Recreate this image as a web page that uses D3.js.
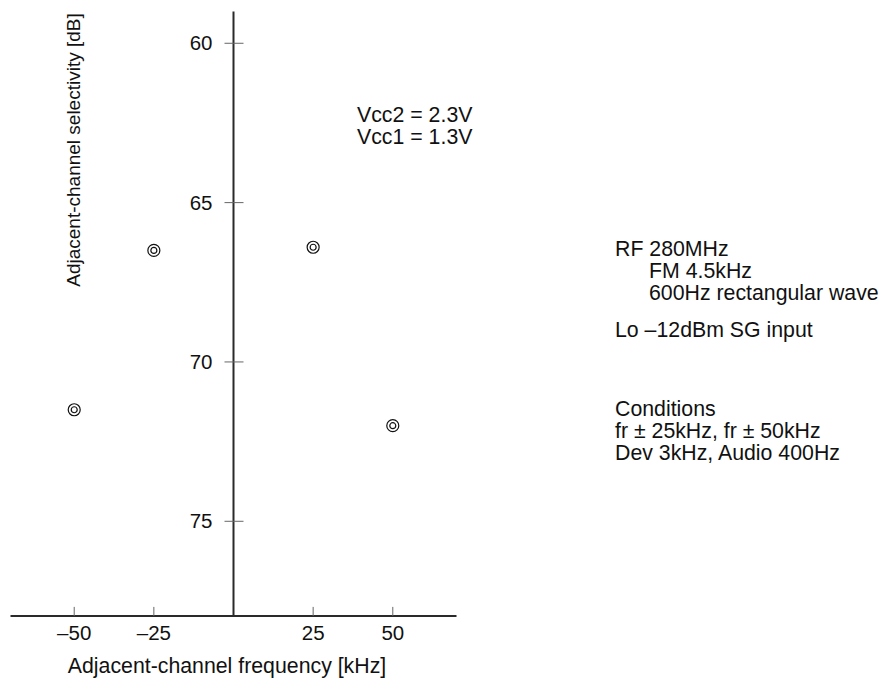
<!DOCTYPE html>
<html>
<head>
<meta charset="utf-8">
<script src="https://cdn.jsdelivr.net/npm/d3@7"></script>
<style>
  html, body { margin: 0; padding: 0; background: #fff; }
  svg { display: block; font-family: "Liberation Sans", Arial, sans-serif; }
</style>
</head>
<body>
<div id="chart"></div>
<script>
// Measured adjacent-channel selectivity at ±25 kHz and ±50 kHz offsets
const offsetsKHz = [-50, -25, 25, 50];
const selectivityDB = [71.5, 66.5, 66.4, 72.0];

const xTicks = [-50, -25, 25, 50];
const xTickLabels = ["\u201350", "\u201325", "25", "50"];
const yTicks = [60, 65, 70, 75];

const supplyNotes = ["Vcc2 = 2.3V", "Vcc1 = 1.3V"];
const signalNotes = [
  { text: "RF 280MHz", indent: 0 },
  { text: "FM 4.5kHz", indent: 1 },
  { text: "600Hz rectangular wave", indent: 1 }
];
const localNotes = [{ text: "Lo \u201312dBm SG input", indent: 0 }];
const testNotes = [
  { text: "Conditions", indent: 0 },
  { text: "fr \u00b1 25kHz, fr \u00b1 50kHz", indent: 0 },
  { text: "Dev 3kHz, Audio 400Hz", indent: 0 }
];

const W = 883, H = 687;
const svg = d3.select("#chart").append("svg").attr("width", W).attr("height", H);

const x = d3.scaleLinear().domain([-70, 70]).range([10.5, 456.5]);
const y = d3.scaleLinear().domain([59, 78]).range([11.4, 616.9]);

const axisColor = "#2a2a2a";
const tickColor = "#666";
const labelSize = 20.5;
const textSize = 21.3;

// Horizontal axis along the bottom of the plot
const xAxisY = y(78) - 1;
svg.append("line")
  .attr("x1", x(-70)).attr("x2", x(70))
  .attr("y1", xAxisY).attr("y2", xAxisY)
  .attr("stroke", axisColor).attr("stroke-width", 2);

svg.selectAll(".xtick").data(xTicks).join("line")
  .attr("x1", d => x(d)).attr("x2", d => x(d))
  .attr("y1", xAxisY - 9).attr("y2", xAxisY)
  .attr("stroke", tickColor).attr("stroke-width", 1);

svg.selectAll(".xlabel").data(xTicks).join("text")
  .attr("x", d => x(d)).attr("y", xAxisY + 24)
  .attr("text-anchor", "middle")
  .attr("font-size", labelSize)
  .attr("fill", "#111")
  .text((d, i) => xTickLabels[i]);

svg.append("text")
  .attr("x", 227).attr("y", xAxisY + 57)
  .attr("text-anchor", "middle")
  .attr("font-size", textSize)
  .attr("fill", "#111")
  .text("Adjacent-channel frequency [kHz]");

// Vertical axis at zero offset; selectivity grows downward
const yAxisX = x(0);
svg.append("line")
  .attr("x1", yAxisX).attr("x2", yAxisX)
  .attr("y1", y(59)).attr("y2", xAxisY)
  .attr("stroke", axisColor).attr("stroke-width", 2);

svg.selectAll(".ytick").data(yTicks).join("line")
  .attr("x1", yAxisX - 9).attr("x2", yAxisX + 10)
  .attr("y1", d => y(d)).attr("y2", d => y(d))
  .attr("stroke", tickColor).attr("stroke-width", 1);

svg.selectAll(".ylabel").data(yTicks).join("text")
  .attr("x", yAxisX - 21).attr("y", d => y(d) + 7)
  .attr("text-anchor", "end")
  .attr("font-size", labelSize)
  .attr("fill", "#111")
  .text(d => d);

svg.append("text")
  .attr("transform", `translate(80, 150) rotate(-90)`)
  .attr("text-anchor", "middle")
  .attr("font-size", 19)
  .attr("fill", "#111")
  .text("Adjacent-channel selectivity [dB]");

// Measurement points drawn as double circles
const pts = offsetsKHz.map((d, i) => ({ f: d, v: selectivityDB[i] }));
const marks = svg.selectAll(".pt").data(pts).join("g")
  .attr("transform", d => `translate(${x(d.f)}, ${y(d.v)})`);
marks.append("circle").attr("r", 6).attr("fill", "none").attr("stroke", "#111").attr("stroke-width", 1.2);
marks.append("circle").attr("r", 3).attr("fill", "none").attr("stroke", "#111").attr("stroke-width", 1.2);

// Supply voltage notes
svg.selectAll(".supply").data(supplyNotes).join("text")
  .attr("x", 357).attr("y", (d, i) => 122 + i * 22)
  .attr("font-size", textSize)
  .attr("fill", "#111")
  .text(d => d);

// Test condition notes, in three blocks on the right
function noteBlock(lines, top) {
  svg.append("g").selectAll("text").data(lines).join("text")
    .attr("x", d => 615 + d.indent * 34)
    .attr("y", (d, i) => top + i * 22)
    .attr("font-size", textSize)
    .attr("fill", "#111")
    .text(d => d.text);
}
noteBlock(signalNotes, 256);
noteBlock(localNotes, 337);
noteBlock(testNotes, 416);
</script>
</body>
</html>
